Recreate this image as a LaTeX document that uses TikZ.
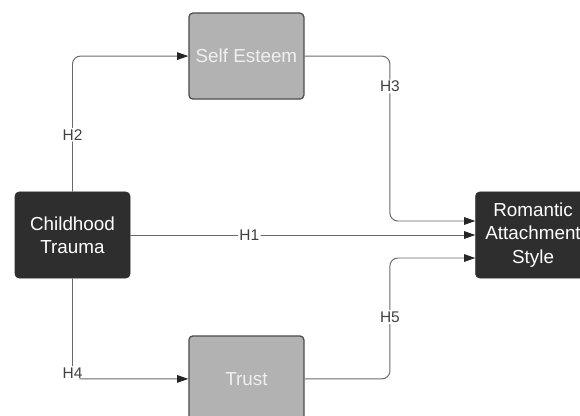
\documentclass[tikz,border=0pt]{standalone}
\usepackage{fontspec}
\setmainfont{Liberation Sans}
\usepackage{xcolor}
\usepackage{tikz}
\usetikzlibrary{positioning,arrows.meta,calc}
\definecolor{boxdark}{HTML}{2E2E2E}
\definecolor{boxgray}{HTML}{B2B2B2}
\definecolor{edgegray}{HTML}{6A6A6A}
\tikzset{every node/.style={font=\fontsize{13.4}{16.5}\selectfont}}

\begin{document}
\begin{tikzpicture}[
    node distance=2.3cm and 1.45cm,
    >={Triangle[length=0.28cm, width=0.19cm, color=black!85]},
    darkbox/.style={rectangle, rounded corners=0.1cm, fill=boxdark, draw=boxdark,
        text=white, minimum width=2.875cm, minimum height=2.15cm, align=center},
    graybox/.style={rectangle, rounded corners=0.1cm, fill=boxgray, draw=black!70,
        line width=0.9pt, text=white!94!black, minimum width=2.875cm, minimum height=2.15cm, align=center},
    link/.style={->, draw=edgegray, line width=0.7pt, rounded corners=0.2cm},
    hlabel/.style={fill=white, inner sep=1pt, text=black!75, font=\fontsize{11}{13}\selectfont}
]
\useasboundingbox (0,0) rectangle (14.5,-10.4);

\node (trauma) [darkbox] at (1.8125,-5.875) {Childhood\\Trauma};

\node (esteem) [graybox, above right=2.3cm and 1.45cm of trauma] {Self Esteem};
\node (trust) [graybox, below right=1.425cm and 1.45cm of trauma] {Trust};

\node (romantic) [darkbox, right=8.625cm of trauma] {Romantic\\Attachment\\Style};

\coordinate (h3bend) at ($(esteem.east)!0.5!(romantic.west)$);
\coordinate (h5bend) at ($(trust.east)!0.5!(romantic.west)$);

\draw[link] (trauma) -- node[hlabel, pos=0.345]{H1} (romantic);

\draw[link] (trauma.north) |- node[hlabel, pos=0.21]{H2} (esteem.west);
\draw[link] (esteem.east) -| node[hlabel, pos=0.67]{H3} (h3bend) |- ([yshift=0.35cm]romantic.west);

\draw[link] (trauma.south) |- node[hlabel, pos=0.5, yshift=0.15cm]{H4} (trust.west);
\draw[link] (trust.east) -| node[hlabel, pos=0.93]{H5} (h5bend) |- ([yshift=-0.575cm]romantic.west);

\end{tikzpicture}
\end{document}
